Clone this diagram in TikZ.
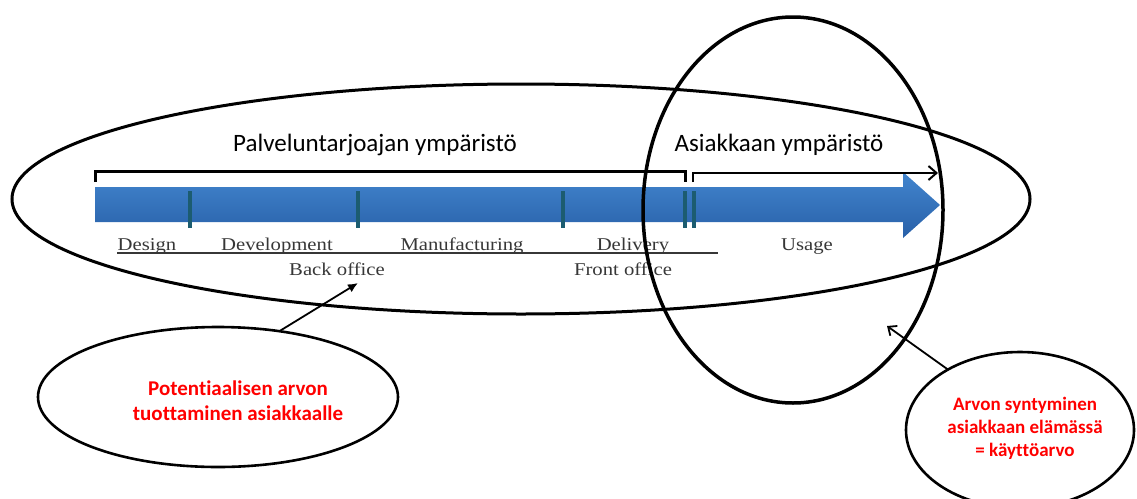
\documentclass[tikz,border=0pt]{standalone}
\usepackage{fontspec}
\setmainfont{Liberation Serif}
\newfontfamily\headfont[Ligatures={NoCommon}]{Carlito}
\newfontfamily\stagefont[FakeStretch=1.15]{Liberation Serif}
\usetikzlibrary{shapes.geometric,arrows.meta}

\definecolor{flowtop}{RGB}{66,133,206}
\definecolor{flowbot}{RGB}{40,96,168}
\definecolor{tickteal}{RGB}{28,92,112}
\definecolor{stagegray}{RGB}{55,55,55}
\definecolor{valred}{RGB}{255,0,0}

\tikzset{
  ring/.style={draw=black, ellipse, inner sep=0pt, outer sep=0pt},
  stage/.style={font=\stagefont\fontsize{18}{20}\selectfont, text=stagegray, anchor=base, inner sep=0pt},
  envtitle/.style={font=\headfont\fontsize{25}{28}\selectfont, anchor=base, inner sep=0pt},
  valtext/.style 2 args={font=\headfont\bfseries\fontsize{#1}{#2}\selectfont, text=valred, align=center, inner sep=0pt},
  tick/.style={fill=tickteal},
  pointer/.style={line width=1.8pt}
}

\begin{document}
\begin{tikzpicture}[x=1pt,y=-1pt]
\useasboundingbox (0,0) rectangle (1137,498);
\clip (0,0) rectangle (1137,498);

% value flow arrow
\shade[top color=flowtop, bottom color=flowbot]
  (95,187) -- (903,187) -- (903,172) -- (940,205) -- (903,238) -- (903,222) -- (95,222) -- cycle;

% stage separators
\fill[tick] (188,191) rectangle (192,228);
\fill[tick] (356,191) rectangle (360,228);
\fill[tick] (561,191) rectangle (565,228);
\fill[tick] (683,191) rectangle (687,228);
\fill[tick] (692,191) rectangle (696,228);

% provider bracket and customer arrow
\draw[line width=3pt] (95,182) -- (95,171) -- (685,171) -- (685,182);
\draw[line width=2.2pt, -{Straight Barb[length=8pt,width=14pt,line width=2pt]}] (693,182) -- (693,173) -- (938,173);

% environment titles
\node[envtitle] (provider) at (375,151) {Palveluntarjoajan ympäristö};
\node[envtitle] (customer) at (779,151) {Asiakkaan ympäristö};

% stage labels
\node[stage] (design) at (147,250) {Design};
\node[stage] (develop) at (277,250) {Development};
\node[stage] (manuf) at (462,250) {Manufacturing};
\node[stage] (deliv) at (633,250) {Delivery};
\node[stage] (usage) at (807,250) {Usage};
\draw[line width=1.6pt, stagegray] (117,253) -- (718,253);
\node[stage] (back) at (337,275) {Back office};
\node[stage] (front) at (623,275) {Front office};

% environment boundaries
\node[ring, line width=3pt, minimum width=1018pt, minimum height=230pt] (provenv) at (521,199) {};
\node[ring, line width=3.5pt, minimum width=300pt, minimum height=386pt] (custenv) at (793,210) {};

% value notes
\node[ring, line width=2.6pt, minimum width=360pt, minimum height=140pt] (potential) at (218,397) {};
\node[valtext={21}{25}] (potlabel) at (238,401) {Potentiaalisen arvon\\tuottaminen asiakkaalle};

\node[ring, line width=2.6pt, minimum width=228pt, minimum height=156pt] (usevalue) at (1020,430) {};
\node[valtext={19}{23}] (uselabel) at (1025,428) {Arvon syntyminen\\asiakkaan elämässä\\= käyttöarvo};

% pointers
\coordinate (backtip) at (358,283);
\coordinate (usetip) at (887,326);
\draw[pointer, -{Latex[length=10pt,width=9pt]}] (potential.47) -- (backtip);
\draw[pointer, -{Straight Barb[length=7pt,width=12pt,line width=1.8pt]}] (usevalue.140) -- (usetip);
\end{tikzpicture}
\end{document}
